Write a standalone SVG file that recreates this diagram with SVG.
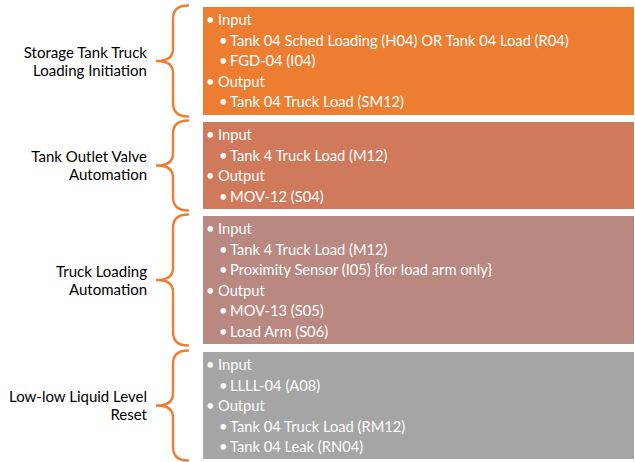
<svg xmlns="http://www.w3.org/2000/svg" width="635" height="462" viewBox="0 0 635 462">
  <style>
    .lbl { font-family: Lato, "Liberation Sans", sans-serif; font-size: 15px; fill: #000000; text-anchor: end; }
    .item { font-family: Lato, "Liberation Sans", sans-serif; font-size: 14.7px; fill: #ffffff; }
    .brace { fill: none; stroke: #ED7D31; stroke-width: 2.4; stroke-linecap: round; stroke-linejoin: round; }
  </style>
  <rect width="635" height="462" fill="#ffffff"/>

  <!-- braces joining each caption to its box -->
  <g id="connectors">
    <path class="brace" d="M188,5.5 C179,5.5 173,9 173,19 L173,49 C173,58 166,61 157,61 C166,61 173,64 173,73 L173,103 C173,113 179,116.5 188,116.5"/>
    <path class="brace" d="M188,120.5 C179,120.5 173,124 173,134 L173,153.5 C173,162.5 166,165.5 157,165.5 C166,165.5 173,168.5 173,177.5 L173,197 C173,207 179,210.5 188,210.5"/>
    <path class="brace" d="M188,214.5 C179,214.5 173,218 173,228 L173,268 C173,277 166,280 157,280 C166,280 173,283 173,292 L173,332 C173,342 179,345.5 188,345.5"/>
    <path class="brace" d="M188,350.5 C179,350.5 173,354 173,364 L173,393.5 C173,402.5 166,405.5 157,405.5 C166,405.5 173,408.5 173,417.5 L173,447 C173,457 179,460.5 188,460.5"/>
  </g>

  <g id="loading-initiation">
    <text class="lbl" x="147" y="57.5">Storage Tank Truck</text>
    <text class="lbl" x="147" y="75.5">Loading Initiation</text>
    <rect x="203" y="7" width="431" height="108" fill="#ED7D31"/>
    <text class="item" x="206" y="25">•<tspan x="218">Input</tspan></text>
    <text class="item" x="219" y="45.5">•<tspan x="230">Tank 04 Sched Loading (H04) OR Tank 04 Load (R04)</tspan></text>
    <text class="item" x="219" y="66">•<tspan x="230">FGD-04 (I04)</tspan></text>
    <text class="item" x="206" y="86.5">•<tspan x="218">Output</tspan></text>
    <text class="item" x="219" y="107">•<tspan x="230">Tank 04 Truck Load (SM12)</tspan></text>
  </g>

  <g id="outlet-valve">
    <text class="lbl" x="147" y="162">Tank Outlet Valve</text>
    <text class="lbl" x="147" y="180">Automation</text>
    <rect x="203" y="122" width="431" height="87" fill="#D0795B"/>
    <text class="item" x="206" y="140">•<tspan x="218">Input</tspan></text>
    <text class="item" x="219" y="160.5">•<tspan x="230">Tank 4 Truck Load (M12)</tspan></text>
    <text class="item" x="206" y="181">•<tspan x="218">Output</tspan></text>
    <text class="item" x="219" y="201.5">•<tspan x="230">MOV-12 (S04)</tspan></text>
  </g>

  <g id="truck-loading">
    <text class="lbl" x="147" y="276.5">Truck Loading</text>
    <text class="lbl" x="147" y="294.5">Automation</text>
    <rect x="203" y="216" width="431" height="128" fill="#B98880"/>
    <text class="item" x="206" y="234">•<tspan x="218">Input</tspan></text>
    <text class="item" x="219" y="254.5">•<tspan x="230">Tank 4 Truck Load (M12)</tspan></text>
    <text class="item" x="219" y="275">•<tspan x="230">Proximity Sensor (I05) {for load arm only}</tspan></text>
    <text class="item" x="206" y="295.5">•<tspan x="218">Output</tspan></text>
    <text class="item" x="219" y="316">•<tspan x="230">MOV-13 (S05)</tspan></text>
    <text class="item" x="219" y="336.5">•<tspan x="230">Load Arm (S06)</tspan></text>
  </g>

  <g id="level-reset">
    <text class="lbl" x="147" y="402">Low-low Liquid Level</text>
    <text class="lbl" x="147" y="420">Reset</text>
    <rect x="203" y="352" width="431" height="107" fill="#A5A5A5"/>
    <text class="item" x="206" y="370">•<tspan x="218">Input</tspan></text>
    <text class="item" x="219" y="390.5">•<tspan x="230">LLLL-04 (A08)</tspan></text>
    <text class="item" x="206" y="411">•<tspan x="218">Output</tspan></text>
    <text class="item" x="219" y="431.5">•<tspan x="230">Tank 04 Truck Load (RM12)</tspan></text>
    <text class="item" x="219" y="452">•<tspan x="230">Tank 04 Leak (RN04)</tspan></text>
  </g>
</svg>
